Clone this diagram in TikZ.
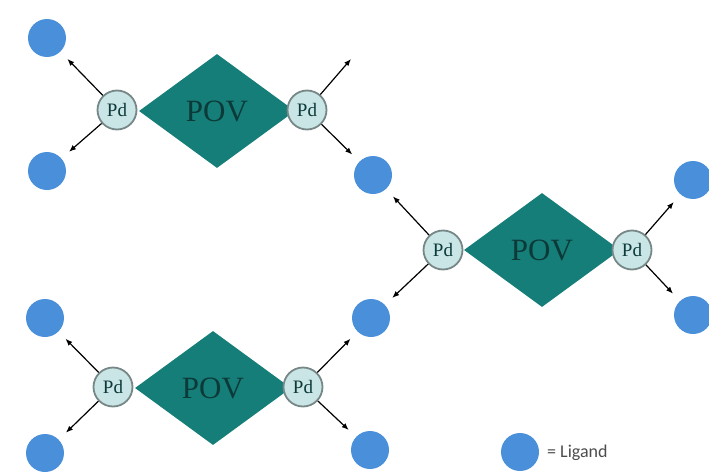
\documentclass[tikz,border=0pt]{standalone}
\usepackage{fontspec}
\setmainfont{Liberation Serif}
\newfontfamily\legendfont{Carlito}
\usetikzlibrary{shapes.geometric,arrows.meta}

\definecolor{povteal}{HTML}{157E78}
\definecolor{povtext}{HTML}{0C3A39}
\definecolor{pdfill}{HTML}{C9E5E5}
\definecolor{pdedge}{HTML}{778787}
\definecolor{ligblue}{HTML}{4A8FDA}

\tikzset{
  pov/.style={diamond, fill=povteal, draw=none, inner sep=0pt,
    minimum width=156pt, minimum height=114pt,
    text=povtext, font=\fontsize{31}{32}\selectfont},
  pd/.style={circle, fill=pdfill, draw=pdedge, line width=1.8pt,
    minimum size=39pt, inner sep=0pt, text=povtext,
    font=\fontsize{19}{20}\selectfont},
  ligand/.style={circle, fill=ligblue, draw=none, minimum size=38pt, inner sep=0pt},
  bond/.style={-{Latex[length=7pt,width=5.5pt]}, line width=1.2pt, black,
    shorten >=10pt},
  freebond/.style={-{Latex[length=7pt,width=5.5pt]}, line width=1.2pt, black}
}

\begin{document}
\begin{tikzpicture}[x=1pt,y=-1pt]
  \useasboundingbox (0,0) rectangle (709,471);

  % ligands
  \node[ligand] (l1) at (47,38) {};
  \node[ligand] (l2) at (47,171) {};
  \node[ligand] (l3) at (373,175) {};
  \node[ligand] (l4) at (693,180) {};
  \node[ligand] (l5) at (693,315) {};
  \node[ligand] (l6) at (371,318) {};
  \node[ligand] (l7) at (45,318) {};
  \node[ligand] (l8) at (45,453) {};
  \node[ligand] (l9) at (370,450) {};

  % free end of the open bond
  \coordinate (open) at (351,59);

  % POV units
  \node[pov] (pov1) at (217,111) {POV};
  \node[pov] (pov2) at (542,250) {POV};
  \node[pov] (pov3) at (213,388) {POV};

  % palladium centres
  \node[pd] (pd1a) at (117,110) {Pd};
  \node[pd] (pd1b) at (307,110) {Pd};
  \node[pd] (pd2a) at (443,250) {Pd};
  \node[pd] (pd2b) at (632,250) {Pd};
  \node[pd] (pd3a) at (113,387) {Pd};
  \node[pd] (pd3b) at (303,387) {Pd};

  % bonds
  \draw[bond] (pd1a) -- (l1);
  \draw[bond] (pd1a) -- (l2);
  \draw[freebond] (pd1b) -- (open);
  \draw[bond] (pd1b) -- (l3);
  \draw[bond] (pd2a) -- (l3);
  \draw[bond] (pd2a) -- (l6);
  \draw[bond] (pd2b) -- (l4);
  \draw[bond] (pd2b) -- (l5);
  \draw[bond] (pd3a) -- (l7);
  \draw[bond] (pd3a) -- (l8);
  \draw[bond] (pd3b) -- (l6);
  \draw[bond] (pd3b) -- (l9);

  % legend
  \node[ligand] (key) at (520,452) {};
  \node[anchor=west, inner sep=0pt, text=black!70,
    font=\legendfont\fontsize{18}{19}\selectfont] (keytext) at (547,453) {= Ligand};
\end{tikzpicture}
\end{document}
